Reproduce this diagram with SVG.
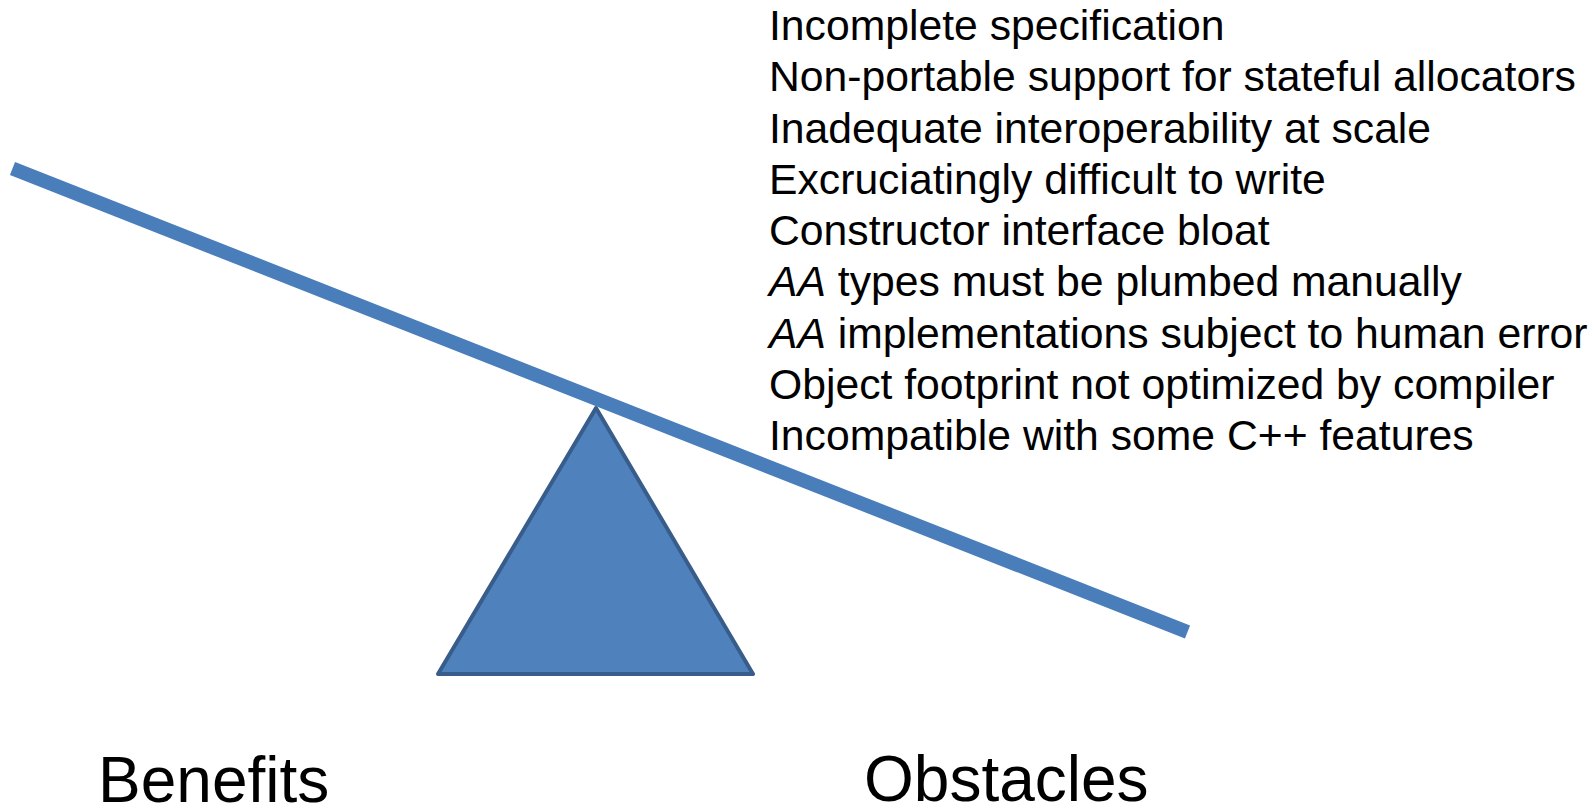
<svg xmlns="http://www.w3.org/2000/svg" width="1594" height="806" viewBox="0 0 1594 806">
<style>
  .item { font-family: "Liberation Sans", Arial, sans-serif; font-size: 42.7px; fill: #000; }
  .label { font-family: "Liberation Sans", Arial, sans-serif; font-size: 64px; fill: #000; }
  .beam { stroke: #4a7ebb; stroke-width: 14; fill: none; }
  .fulcrum { fill: #4f81bd; stroke: #385d8a; stroke-width: 4; stroke-linejoin: round; }
</style>
<rect width="1594" height="806" fill="#ffffff"/>
<g id="fulcrum">
  <polygon class="fulcrum" points="596,408 753,674 438,674"/>
</g>
<g id="connectors">
  <line class="beam" x1="12.5" y1="168.5" x2="1187.5" y2="632"/>
</g>
<g id="obstacles-list">
  <text class="item" x="769" y="40">Incomplete specification</text>
  <text class="item" x="769" y="91.3">Non-portable support for stateful allocators</text>
  <text class="item" x="769" y="142.5">Inadequate interoperability at scale</text>
  <text class="item" x="769" y="193.8">Excruciatingly difficult to write</text>
  <text class="item" x="769" y="245">Constructor interface bloat</text>
  <text class="item" x="769" y="296.3"><tspan font-style="italic">AA</tspan> types must be plumbed manually</text>
  <text class="item" x="769" y="347.5"><tspan font-style="italic">AA</tspan> implementations subject to human error</text>
  <text class="item" x="769" y="398.8">Object footprint not optimized by compiler</text>
  <text class="item" x="769" y="450">Incompatible with some C++ features</text>
</g>
<g id="benefits">
  <text class="label" x="98" y="802">Benefits</text>
</g>
<g id="obstacles">
  <text class="label" x="864" y="801">Obstacles</text>
</g>
</svg>
